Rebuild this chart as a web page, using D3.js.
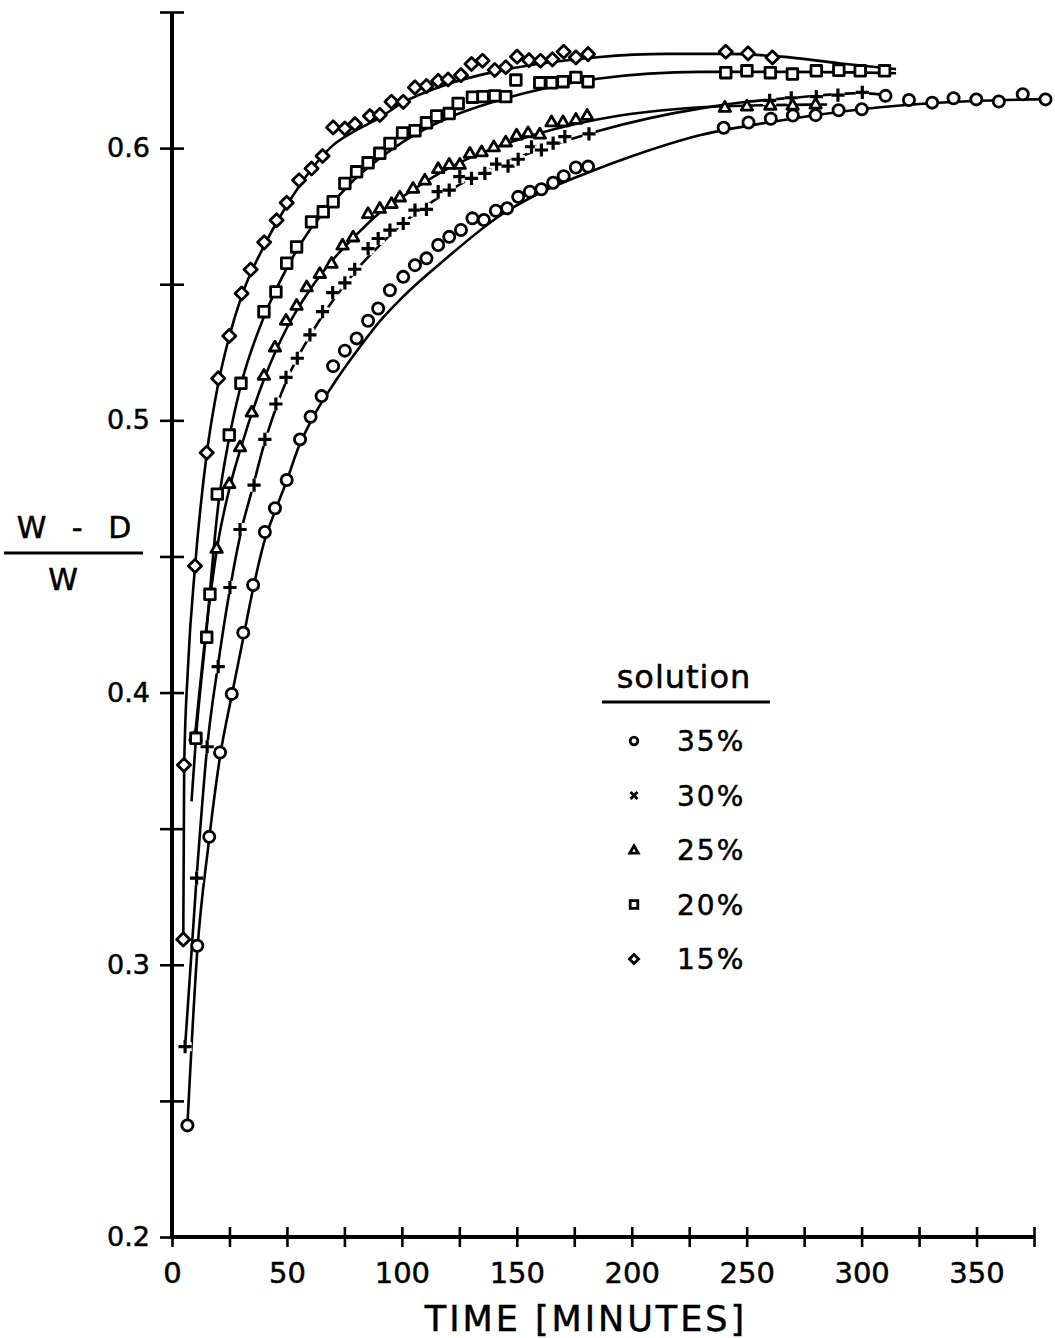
<!DOCTYPE html>
<html>
<head>
<meta charset="utf-8">
<script src="https://cdn.jsdelivr.net/npm/d3@7"></script>
<style>
  body { margin: 0; background: #fff; }
  svg { display: block; }
  text { font-family: "DejaVu Sans", sans-serif; fill: #000; stroke: #000; stroke-width: 0.5px; }
</style>
</head>
<body>
<div id="chart"></div>
<script>
"use strict"
// chart size, same as the window
var width = 1055,
	height = 1338;

// axis ticks and labels
var xTicks = [0,25,50,75,100,125,150,175,200,225,250,275,300,325,350,375];
var xLabels = [0,50,100,150,200,250,300,350];
var yTicks = [0.2,0.25,0.3,0.35,0.4,0.45,0.5,0.55,0.6,0.65];
var yLabels = [0.2,0.3,0.4,0.5,0.6];

// legend order
var legendLabels = ["35%","30%","25%","20%","15%"];
var legendShapes = ["circle","x","triangle","square","diamond"];

// measured points [time in minutes, (W-D)/W]
var s35 = [[6.7,0.241],[11,0.307],[16.2,0.347],[20.9,0.378],[26,0.3995],[31,0.422],[35.3,0.4395],[40.4,0.459],[44.8,0.4677],[49.9,0.4781],[55.7,0.493],[60.3,0.5013],[65.1,0.5089],[70.1,0.5199],[75.2,0.5256],[80.3,0.5301],[85.3,0.5366],[89.7,0.5411],[94.8,0.5478],[100.6,0.5527],[105.7,0.557],[110.7,0.5595],[115.8,0.5644],[120.6,0.5674],[125.7,0.5699],[130.7,0.5742],[135.7,0.5736],[140.9,0.577],[145.8,0.5779],[150.6,0.5821],[155.7,0.584],[160.7,0.5849],[165.8,0.5873],[170.4,0.5897],[175.7,0.5929],[181,0.5932],[240,0.6075],[250.8,0.6094],[260.5,0.6108],[270.1,0.612],[280,0.6121],[290,0.6139],[300.1,0.6143],[310.4,0.6192],[320.6,0.6177],[330.7,0.6167],[340,0.6183],[349.9,0.6179],[359.7,0.6171],[370.1,0.6198],[380,0.6179]];
var s30 = [[5.7,0.2699],[10.7,0.3318],[15.3,0.3801],[20.1,0.4095],[25.2,0.4386],[29.6,0.4599],[35.7,0.4762],[40.4,0.493],[45.2,0.506],[49.6,0.5158],[54.5,0.5228],[60,0.5314],[65.5,0.5399],[69.9,0.5469],[75.2,0.5505],[79.5,0.5555],[85.3,0.5631],[89.7,0.5668],[94.8,0.5699],[100.6,0.5723],[105.7,0.5772],[110.7,0.5775],[115.8,0.584],[120.6,0.5846],[125.2,0.5895],[130.3,0.5889],[136.1,0.5907],[141.2,0.5941],[146.2,0.5934],[150.6,0.5959],[156.4,0.6005],[160.7,0.5993],[165.8,0.6018],[170.9,0.6042],[181.4,0.6052],[260,0.6175],[269.4,0.6185],[280.3,0.6189],[289.7,0.6195],[300.3,0.6205]];
var s25 = [[10.2,0.384],[19.4,0.453],[24.9,0.4768],[29.6,0.4903],[34.7,0.5031],[40,0.5166],[44.8,0.527],[49.6,0.5368],[54.2,0.5423],[58.6,0.5491],[64.3,0.554],[69.4,0.5577],[74.2,0.5644],[78.8,0.5674],[85.3,0.576],[90.4,0.5779],[95.5,0.5797],[99.1,0.5821],[104.9,0.5853],[110,0.5883],[115.8,0.5925],[120.6,0.5941],[125.2,0.5941],[129.6,0.5981],[134.7,0.5987],[140,0.6005],[145.2,0.6023],[149.9,0.6048],[154.9,0.6057],[160,0.6052],[165.1,0.6097],[170.1,0.6097],[175.7,0.6106],[180.6,0.6121],[240.5,0.615],[250.1,0.6155],[260.3,0.6158],[270,0.6158],[280,0.6162]];
var s20 = [[10.4,0.3832],[15.1,0.4203],[16.5,0.4361],[19.7,0.4729],[24.9,0.4946],[30,0.5136],[40,0.5399],[45.2,0.5472],[49.9,0.5577],[54.2,0.5637],[60.7,0.5729],[65.8,0.5766],[70.1,0.5803],[75.2,0.587],[80.3,0.5913],[85.3,0.5946],[90.4,0.5981],[94.8,0.6017],[100.3,0.6056],[105.7,0.6064],[110.7,0.6093],[115.1,0.6118],[120.6,0.6127],[124.5,0.6164],[130.7,0.6187],[135.3,0.6189],[140.4,0.6192],[145.2,0.6189],[149.6,0.625],[160,0.624],[165.1,0.624],[170.1,0.6244],[175.7,0.626],[181,0.6244],[240.9,0.6277],[250.1,0.6284],[260.3,0.6277],[269.9,0.6272],[280.3,0.6284],[290.1,0.6286],[299.4,0.6284],[310,0.6284]];
var s15 = [[4.9,0.3093],[5.2,0.3734],[10,0.4465],[15.1,0.4881],[20.1,0.5154],[24.9,0.531],[30.3,0.5466],[34.2,0.5554],[40.1,0.5654],[45.5,0.5735],[49.9,0.5799],[55.3,0.5882],[60.7,0.5925],[65.5,0.5971],[70.1,0.6076],[75.2,0.6072],[79.6,0.6088],[86.1,0.6118],[90.4,0.6122],[95.5,0.617],[100.6,0.617],[105.7,0.6223],[110.7,0.6228],[115.8,0.6247],[120.1,0.6252],[125.7,0.6268],[130.3,0.6309],[135.1,0.6321],[140.4,0.6287],[145.2,0.6297],[150.1,0.6336],[155.3,0.6323],[160.3,0.6321],[165.5,0.6326],[170.4,0.6354],[175.7,0.6333],[181,0.6345],[240.9,0.6354],[250.6,0.6348],[261.2,0.6333]];

// fitted curves
var fit35 = [[6.7,0.241],[11,0.305],[16,0.345],[21,0.377],[26,0.399],[31,0.42],[35,0.437],[40,0.455],[45,0.467],[50,0.478],[55,0.49],[60,0.499],[70,0.513],[80,0.525],[90,0.536],[100,0.545],[120,0.56],[142,0.5748],[160,0.5835],[180,0.5907],[200,0.597],[230,0.6048],[260,0.6095],[300,0.6143],[330,0.6165],[382,0.618]];
var fit30 = [[5.7,0.27],[10.7,0.332],[15.3,0.38],[20,0.41],[25,0.437],[30,0.459],[35,0.475],[40,0.491],[45,0.504],[50,0.515],[60,0.531],[70,0.544],[80,0.555],[90,0.564],[100,0.572],[120,0.584],[140,0.593],[160,0.5995],[185,0.6062],[230,0.6146],[250,0.617],[270,0.6185],[300,0.6202],[310,0.6195]];
var fit25 = [[10,0.384],[15,0.424],[20,0.455],[25,0.475],[30,0.49],[40,0.515],[50,0.534],[60,0.548],[70,0.559],[80,0.568],[90,0.576],[100,0.582],[120,0.5925],[140,0.6],[160,0.6055],[185,0.6105],[230,0.615],[260,0.6158],[285,0.616]];
var fit20 = [[8.5,0.36],[10.4,0.383],[15,0.423],[20,0.468],[25,0.494],[30,0.513],[40,0.538],[50,0.556],[60,0.57],[70,0.58],[80,0.589],[90,0.596],[100,0.602],[120,0.611],[140,0.617],[160,0.6215],[185,0.6255],[230,0.628],[270,0.628],[315,0.6275]];
var fit15 = [[4.9,0.309],[5.3,0.373],[7,0.41],[10,0.446],[15,0.487],[20,0.513],[25,0.531],[30,0.545],[40,0.564],[50,0.579],[60,0.5915],[70,0.601],[80,0.6065],[90,0.611],[100,0.6165],[120,0.6235],[140,0.628],[160,0.631],[185,0.6334],[215,0.6346],[240,0.6346],[265,0.6336],[290,0.6312],[315,0.629]];

var series = [
	{pts:s35, fit:fit35, shape:"circle"},
	{pts:s30, fit:fit30, shape:"plus"},
	{pts:s25, fit:fit25, shape:"triangle"},
	{pts:s20, fit:fit20, shape:"square"},
	{pts:s15, fit:fit15, shape:"diamond"}
];

var svg = d3.select("#chart").append("svg")
	.attr("width",width)
	.attr("height",height);

var x = d3.scaleLinear().domain([0,375]).range([172,1034]);
var y = d3.scaleLinear().domain([0.2,0.65]).range([1237,12]);

// fitted lines
var line = d3.line()
	.x(function(d){return x(d[0]);})
	.y(function(d){return y(d[1]);})
	.curve(d3.curveMonotoneX);

svg.append("g").selectAll("path")
	.data(series).enter().append("path")
	.attr("d",function(d){return line(d.fit);})
	.style("fill","none")
	.style("stroke","#000")
	.style("stroke-width",2.6);

// marker shapes
function shapePath(shape, s) {
	var p = d3.path();
	if (shape === "circle") {
		p.moveTo(s,0); p.arc(0,0,s,0,2*Math.PI);
	} else if (shape === "square") {
		p.rect(-s,-s,2*s,2*s);
	} else if (shape === "diamond") {
		p.moveTo(0,-s*1.2); p.lineTo(s*1.2,0); p.lineTo(0,s*1.2); p.lineTo(-s*1.2,0); p.closePath();
	} else if (shape === "triangle") {
		p.moveTo(0,-s*1.1); p.lineTo(s*1.1,s*0.8); p.lineTo(-s*1.1,s*0.8); p.closePath();
	} else if (shape === "plus") {
		p.moveTo(-s*1.2,0); p.lineTo(s*1.2,0); p.moveTo(0,-s*1.2); p.lineTo(0,s*1.2);
	} else if (shape === "x") {
		p.moveTo(-s,-s); p.lineTo(s,s); p.moveTo(s,-s); p.lineTo(-s,s);
	}
	return p.toString();
}

var markerSize = {circle:5.6, square:5.3, diamond:5.5, triangle:5.2, plus:5.5};

series.forEach(function(sr) {
	var g = svg.append("g");
	var pts = g.selectAll("g").data(sr.pts).enter().append("g")
		.attr("transform",function(d){return "translate("+x(d[0])+","+y(d[1])+")";});
	if (sr.shape === "plus") {
		// white gap round each cross
		pts.append("path")
			.attr("d",shapePath("plus",markerSize.plus))
			.style("stroke","#fff")
			.style("stroke-width",9);
		pts.append("path")
			.attr("d",shapePath("plus",markerSize.plus))
			.style("stroke","#000")
			.style("stroke-width",3.2);
	} else {
		pts.append("path")
			.attr("d",shapePath(sr.shape,markerSize[sr.shape]))
			.style("fill","#fff")
			.style("stroke","#000")
			.style("stroke-width",2.8)
			.style("stroke-linejoin","round");
	}
});

// axes: ticks cross the axis line
var xAxis = d3.axisBottom(x)
	.tickValues(xTicks)
	.tickSizeOuter(0)
	.tickSize(10)
	.tickPadding(10)
	.tickFormat(function(d){return xLabels.indexOf(d) >= 0 ? d : "";});
var gx = svg.append("g").attr("transform","translate(0,"+y(0.2)+")").call(xAxis);
gx.selectAll(".tick line").attr("y1",-10).attr("y2",10).style("stroke-width",2.6);
gx.select(".domain").style("stroke-width",4).attr("d","M"+(x(0)-2)+",0H"+x(375));
gx.selectAll(".tick text")
	.style("font-size","29px")
	.style("font-family","DejaVu Sans")
	.attr("dy","0.9em");

var yAxis = d3.axisLeft(y)
	.tickValues(yTicks)
	.tickSizeOuter(0)
	.tickSize(11)
	.tickPadding(11)
	.tickFormat(function(d){
		var r = Math.round(d*100);
		return r % 10 === 0 && yLabels.indexOf(r/100) >= 0 ? (r/100).toFixed(1) : "";
	});
var gy = svg.append("g").attr("transform","translate("+x(0)+",0)").call(yAxis);
gy.selectAll(".tick line").attr("x1",-12).attr("x2",12).style("stroke-width",2.6);
gy.select(".domain").style("stroke-width",4).attr("d","M0,"+y(0.65)+"V"+(y(0.2)+2));
gy.selectAll(".tick text")
	.style("font-size","27px")
	.style("font-family","DejaVu Sans");

// axis titles
svg.append("text")
	.attr("x",586).attr("y",1331)
	.attr("text-anchor","middle")
	.style("font-size","35px")
	.style("letter-spacing","3px")
	.text("TIME [MINUTES]");

svg.append("text")
	.attr("x",78).attr("y",538)
	.attr("text-anchor","middle")
	.style("font-size","30px")
	.style("letter-spacing","8px")
	.text("W - D");
svg.append("line")
	.attr("x1",4).attr("x2",143)
	.attr("y1",553).attr("y2",553)
	.style("stroke","#000").style("stroke-width",3);
svg.append("text")
	.attr("x",63).attr("y",590)
	.attr("text-anchor","middle")
	.style("font-size","30px")
	.text("W");

// legend
svg.append("text")
	.attr("x",684).attr("y",688)
	.attr("text-anchor","middle")
	.style("font-size","32px")
	.style("letter-spacing","1px")
	.text("solution");
svg.append("line")
	.attr("x1",602).attr("x2",770)
	.attr("y1",702).attr("y2",702)
	.style("stroke","#000").style("stroke-width",3);

var leg = svg.append("g").selectAll("g")
	.data(legendLabels).enter().append("g")
	.attr("transform",function(d,i){return "translate(0,"+(741+i*54.5)+")";});
leg.append("path")
	.attr("transform","translate(634,0)")
	.attr("d",function(d,i){return shapePath(legendShapes[i], legendShapes[i]==="x" ? 3.5 : 3.8);})
	.style("fill","#fff")
	.style("stroke","#000")
	.style("stroke-width",2.8);
leg.append("text")
	.attr("x",677).attr("y",10)
	.style("font-size","28px")
	.style("letter-spacing","2px")
	.text(function(d){return d;});
</script>
</body>
</html>
